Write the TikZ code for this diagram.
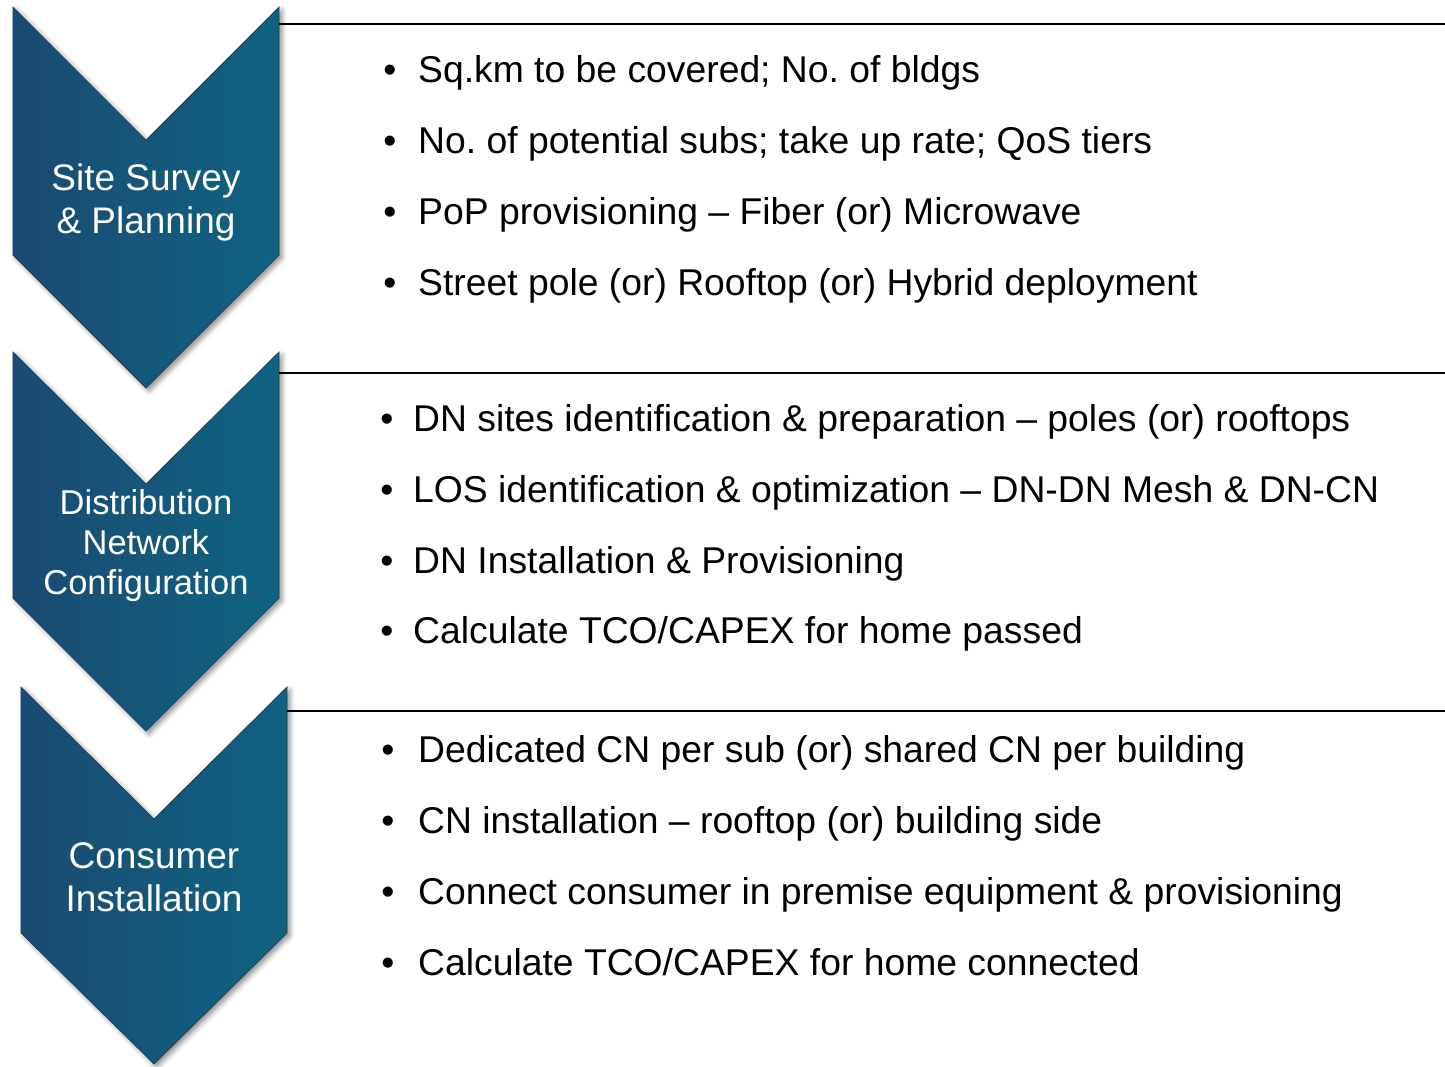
\documentclass[tikz,border=0pt]{standalone}
\usepackage{fontspec}
\setmainfont{Liberation Sans}
\frenchspacing
\usetikzlibrary{shadows.blur}
\definecolor{chevL}{RGB}{27,74,114}
\definecolor{chevR}{RGB}{15,99,129}
\definecolor{chevEdge}{RGB}{30,58,96}
\tikzset{
  chevron/.style={left color=chevL, right color=chevR, draw=chevEdge, line width=0.7pt,
    blur shadow={shadow xshift=3pt, shadow yshift=-3pt, shadow blur radius=5pt, shadow opacity=45}},
  chevlabel/.style={text=white, align=center, font=\fontsize{37}{43}\selectfont, inner sep=0pt},
  sepline/.style={line width=2pt, draw=black},
  bul/.style={anchor=base, font=\fontsize{37.3}{43}\selectfont, inner sep=0pt},
  item/.style={anchor=base west, font=\fontsize{37.3}{43}\selectfont, inner sep=0pt}
}
\begin{document}
\begin{tikzpicture}[x=1pt,y=-1pt]
\useasboundingbox (0,0) rectangle (1445,1066);
% chevrons
\path[chevron] (13,7) -- (146,140) -- (279,7) -- (279,255) -- (146,388) -- (13,255) -- cycle;
\path[chevron] (13,352) -- (146,484) -- (279,352) -- (279,598) -- (146,731) -- (13,598) -- cycle;
\path[chevron] (21,687) -- (154,819) -- (287,687) -- (287,933) -- (154,1064) -- (21,933) -- cycle;
\node[chevlabel] (c1) at (146,202) {Site Survey\\\& Planning};
\node[chevlabel, font=\fontsize{34.5}{40}\selectfont] (c2) at (146,546) {Distribution\\Network\\Configuration};
\node[chevlabel] (c3) at (154,877) {Consumer\\Installation};
% separators
\coordinate (l1a) at (279,24); \coordinate (l1b) at (1445,24);
\coordinate (l2a) at (279,373); \coordinate (l2b) at (1445,373);
\coordinate (l3a) at (287,711); \coordinate (l3b) at (1445,711);
\draw[sepline] (l1a) -- (l1b);
\draw[sepline] (l2a) -- (l2b);
\draw[sepline] (l3a) -- (l3b);
% section 1
\node[bul] (b11) at (390,82) {•};
\node[item] (t11) at (418,82) {Sq.km to be covered; No. of bldgs};
\node[bul] (b12) at (390,153) {•};
\node[item] (t12) at (418,153) {No. of potential subs; take up rate; QoS tiers};
\node[bul] (b13) at (390,224) {•};
\node[item] (t13) at (418,224) {PoP provisioning – Fiber (or) Microwave};
\node[bul] (b14) at (390,295) {•};
\node[item] (t14) at (418,295) {Street pole (or) Rooftop (or) Hybrid deployment};
% section 2
\node[bul] (b21) at (387,431) {•};
\node[item] (t21) at (413,431) {DN sites identification \& preparation – poles (or) rooftops};
\node[bul] (b22) at (387,502) {•};
\node[item] (t22) at (413,502) {LOS identification \& optimization – DN-DN Mesh \& DN-CN};
\node[bul] (b23) at (387,573) {•};
\node[item] (t23) at (413,573) {DN Installation \& Provisioning};
\node[bul] (b24) at (387,643) {•};
\node[item] (t24) at (413,643) {Calculate TCO/CAPEX for home passed};
% section 3
\node[bul] (b31) at (388,762) {•};
\node[item] (t31) at (418,762) {Dedicated CN per sub (or) shared CN per building};
\node[bul] (b32) at (388,833) {•};
\node[item] (t32) at (418,833) {CN installation – rooftop (or) building side};
\node[bul] (b33) at (388,904) {•};
\node[item] (t33) at (418,904) {Connect consumer in premise equipment \& provisioning};
\node[bul] (b34) at (388,975) {•};
\node[item] (t34) at (418,975) {Calculate TCO/CAPEX for home connected};
\end{tikzpicture}
\end{document}
